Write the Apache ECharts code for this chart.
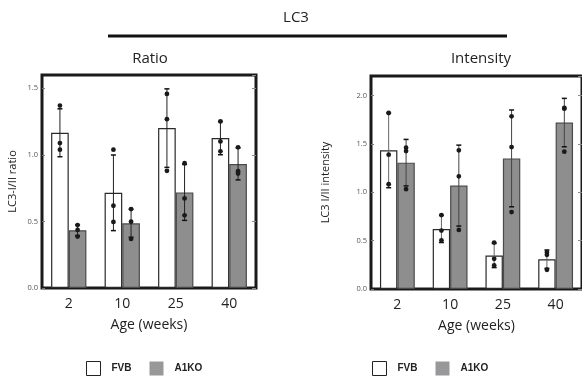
<!DOCTYPE html>
<html>
<head>
<meta charset="utf-8">
<script src="https://cdn.jsdelivr.net/npm/echarts@6/dist/echarts.min.js"></script>
<style>
html,body{margin:0;padding:0;background:#fff;}
#chart{width:582px;height:379px;}
</style>
</head>
<body>
<div id="chart"></div>
<script>
const categories = ['2', '10', '25', '40'];
const seriesNames = ['FVB', 'A1KO'];

// Ratio panel
const ratioFVB = [1.166, 0.715, 1.201, 1.126];
const ratioA1KO = [0.434, 0.486, 0.718, 0.932];
const ratioFVBSD = [0.18, 0.284, 0.295, 0.125];
const ratioA1KOSD = [0.04, 0.105, 0.21, 0.12];
const ratioFVBPts = [[1.37, 1.089, 1.039], [1.039, 0.618, 0.496], [1.458, 1.268, 0.880], [1.251, 1.101, 1.027]];
const ratioA1KOPts = [[0.473, 0.436, 0.386], [0.593, 0.498, 0.369], [0.937, 0.673, 0.546], [1.057, 0.877, 0.860]];
const ratioTicks = [0, 0.5, 1.0, 1.5];

// Intensity panel
const intFVB = [1.432, 0.62, 0.346, 0.308];
const intA1KO = [1.305, 1.068, 1.349, 1.719];
const intFVBSD = [0.386, 0.14, 0.125, 0.095];
const intA1KOSD = [0.24, 0.418, 0.50, 0.25];
const intFVBPts = [[1.818, 1.387, 1.082], [0.764, 0.603, 0.503], [0.479, 0.312, 0.243], [0.38, 0.353, 0.199]];
const intA1KOPts = [[1.459, 1.425, 1.031], [1.432, 1.164, 0.61], [1.784, 1.466, 0.795], [1.863, 1.87, 1.418]];
const intTicks = [0, 0.5, 1.0, 1.5, 2.0];

const BAR_FRAC = 0.33;
const FONT = "'Open Sans', 'Liberation Sans', sans-serif";

function errData(means, sds, pts) {
  return means.map((m, i) => [i, m, sds[i]].concat(pts[i]));
}

function makeErrRender(sign, lineColor) {
  return function (params, api) {
    const idx = api.value(0);
    const mean = api.value(1);
    const sd = api.value(2);
    const band = api.size([1, 0])[0];
    const off = sign * band * BAR_FRAC / 2;
    const top = api.coord([idx, mean + sd]);
    const bot = api.coord([idx, mean - sd]);
    const x = top[0] + off;
    const cap = 2.5;
    const children = [
      { type: 'line', shape: { x1: x, y1: top[1], x2: x, y2: bot[1] }, style: { stroke: lineColor, lineWidth: 1 } },
      { type: 'line', shape: { x1: x - cap, y1: top[1], x2: x + cap, y2: top[1] }, style: { stroke: '#111', lineWidth: 1.5 } },
      { type: 'line', shape: { x1: x - cap, y1: bot[1], x2: x + cap, y2: bot[1] }, style: { stroke: '#111', lineWidth: 1.5 } }
    ];
    for (let k = 3; k < 6; k++) {
      const p = api.coord([idx, api.value(k)]);
      children.push({ type: 'circle', shape: { cx: x, cy: p[1], r: 2.4 }, style: { fill: '#1a1a1a' } });
    }
    return { type: 'group', children: children };
  };
}

function fmt(ticks) {
  return function (v) {
    return ticks.some(t => Math.abs(t - v) < 1e-6) ? v.toFixed(1) : '';
  };
}

const chart = echarts.init(document.getElementById('chart'), null, { renderer: 'canvas' });

const fvbStyle = { color: '#ffffff', borderColor: '#2a2a2a', borderWidth: 1.2 };
const a1Style = { color: '#8e8e8e', borderColor: '#4a4a4a', borderWidth: 1.2 };

function yAxisPair(gridIndex, max, ticks, name, nameGap) {
  return [
    {
      gridIndex: gridIndex, type: 'value', min: 0, max: max, interval: 0.5,
      name: name, nameLocation: 'middle', nameGap: nameGap,
      nameTextStyle: { fontSize: 11, color: '#222', fontFamily: FONT },
      axisLine: { show: false },
      axisTick: { show: true, inside: true, length: 3, lineStyle: { color: '#777' } },
      axisLabel: { fontSize: 7.5, color: '#555', margin: 4, fontFamily: FONT, showMaxLabel: false, formatter: fmt(ticks) },
      splitLine: { show: false }
    },
    {
      gridIndex: gridIndex, type: 'value', min: 0, max: max, interval: 0.5, position: 'right',
      axisLine: { show: false },
      axisTick: { show: true, inside: true, length: 4, lineStyle: { color: '#888' } },
      axisLabel: { show: false },
      splitLine: { show: false }
    }
  ];
}

const legendText = { fontSize: 10, fontWeight: 'bold', color: '#222', fontFamily: "'Liberation Sans', Arial, sans-serif", padding: [0, 0, 0, 6] };
const legendData = [
  { name: seriesNames[0], itemStyle: { color: '#ffffff', borderColor: '#222', borderWidth: 1 } },
  { name: seriesNames[1], itemStyle: { color: '#98989a', borderWidth: 0 } }
];

const option = {
  animation: false,
  backgroundColor: '#ffffff',
  textStyle: { fontFamily: FONT },
  graphic: [
    { type: 'text', x: 296, y: 18, style: { text: 'LC3', fontSize: 15, fontFamily: FONT, fill: '#222', textAlign: 'center', textVerticalAlign: 'middle' } },
    { type: 'line', shape: { x1: 108, y1: 36, x2: 507, y2: 36 }, style: { stroke: '#111', lineWidth: 3 } },
    { type: 'text', x: 150, y: 59, style: { text: 'Ratio', fontSize: 15, fontFamily: FONT, fill: '#222', textAlign: 'center', textVerticalAlign: 'middle' } },
    { type: 'text', x: 481, y: 59, style: { text: 'Intensity', fontSize: 15, fontFamily: FONT, fill: '#222', textAlign: 'center', textVerticalAlign: 'middle' } }
  ],
  grid: [
    { left: 42, top: 75, width: 214, height: 213, show: true, borderColor: '#1a1a1a', borderWidth: 3, backgroundColor: 'transparent' },
    { left: 371, top: 76, width: 213, height: 213, show: true, borderColor: '#1a1a1a', borderWidth: 3, backgroundColor: 'transparent' }
  ],
  legend: [
    { left: 86, top: 361, padding: 0, itemWidth: 14, itemHeight: 14, itemGap: 18, icon: 'rect', data: legendData, textStyle: legendText },
    { left: 372, top: 361, padding: 0, itemWidth: 14, itemHeight: 14, itemGap: 18, icon: 'rect', data: legendData, textStyle: legendText }
  ],
  xAxis: [0, 1].map(g => ({
    gridIndex: g, type: 'category', data: categories,
    name: 'Age (weeks)', nameLocation: 'middle', nameGap: 30,
    nameTextStyle: { fontSize: 14, color: '#222', fontFamily: FONT },
    axisLine: { show: false }, axisTick: { show: false },
    axisLabel: { fontSize: 14, color: '#222', margin: 9, fontFamily: FONT }
  })),
  yAxis: yAxisPair(0, 1.6, ratioTicks, 'LC3-I/II ratio', 24)
    .concat(yAxisPair(1, 2.2, intTicks, 'LC3 I/II intensity', 40)),
  series: [
    { name: 'FVB', type: 'bar', xAxisIndex: 0, yAxisIndex: 0, data: ratioFVB, barWidth: '33%', barGap: '0%', itemStyle: fvbStyle },
    { name: 'A1KO', type: 'bar', xAxisIndex: 0, yAxisIndex: 0, data: ratioA1KO, barWidth: '33%', barGap: '0%', itemStyle: a1Style },
    { name: 'FVB', type: 'bar', xAxisIndex: 1, yAxisIndex: 2, data: intFVB, barWidth: '33%', barGap: '0%', itemStyle: fvbStyle },
    { name: 'A1KO', type: 'bar', xAxisIndex: 1, yAxisIndex: 2, data: intA1KO, barWidth: '33%', barGap: '0%', itemStyle: a1Style },
    { type: 'custom', xAxisIndex: 0, yAxisIndex: 0, z: 5, renderItem: makeErrRender(-1, '#222'), data: errData(ratioFVB, ratioFVBSD, ratioFVBPts), encode: { x: 0, y: 1 } },
    { type: 'custom', xAxisIndex: 0, yAxisIndex: 0, z: 5, renderItem: makeErrRender(1, '#222'), data: errData(ratioA1KO, ratioA1KOSD, ratioA1KOPts), encode: { x: 0, y: 1 } },
    { type: 'custom', xAxisIndex: 1, yAxisIndex: 2, z: 5, renderItem: makeErrRender(-1, '#666'), data: errData(intFVB, intFVBSD, intFVBPts), encode: { x: 0, y: 1 } },
    { type: 'custom', xAxisIndex: 1, yAxisIndex: 2, z: 5, renderItem: makeErrRender(1, '#444'), data: errData(intA1KO, intA1KOSD, intA1KOPts), encode: { x: 0, y: 1 } }
  ]
};
chart.setOption(option);
</script>
</body>
</html>
